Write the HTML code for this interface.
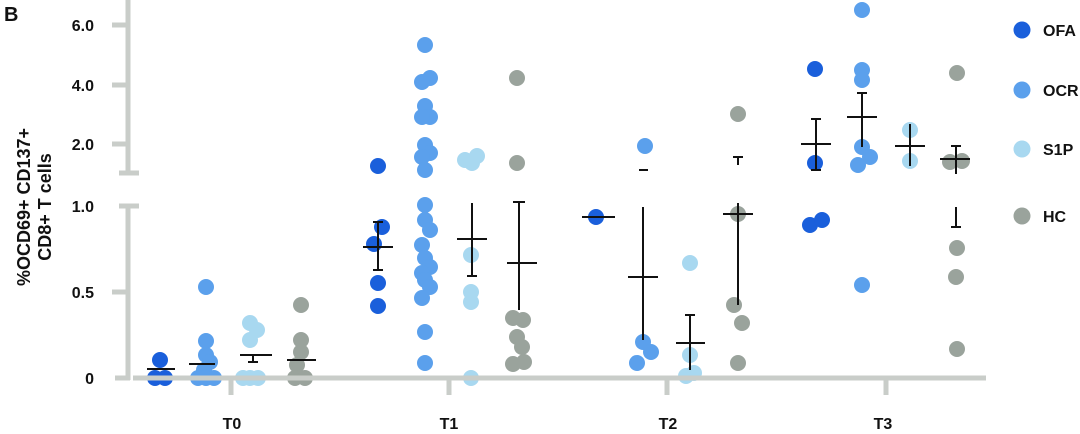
<!DOCTYPE html>
<html><head><meta charset="utf-8"><style>
html,body{margin:0;padding:0;background:#fff;width:1080px;height:434px;overflow:hidden}
text{font-family:"Liberation Sans",sans-serif;font-weight:bold;fill:#111}
</style></head><body>
<svg width="1080" height="434" viewBox="0 0 1080 434" xmlns="http://www.w3.org/2000/svg">
<text x="4" y="21" font-size="20">B</text>
<g transform="translate(30,207) rotate(-90)"><text x="0" y="0" font-size="18" text-anchor="middle">%OCD69+ CD137+</text><text x="0" y="21" font-size="18" text-anchor="middle">CD8+ T cells</text></g>
<g font-size="16" text-anchor="end">
<text x="94" y="31">6.0</text><text x="94" y="91">4.0</text><text x="94" y="150">2.0</text>
<text x="94" y="212">1.0</text><text x="94" y="298">0.5</text><text x="94" y="384">0</text></g>
<g fill="#1a5fdb">
<circle cx="160" cy="360" r="8"/><circle cx="155" cy="378" r="8"/><circle cx="165" cy="378" r="8"/>
<circle cx="378" cy="166" r="8"/><circle cx="382" cy="227" r="8"/><circle cx="374" cy="244" r="8"/><circle cx="378" cy="283" r="8"/><circle cx="378" cy="306" r="8"/>
<circle cx="596" cy="217" r="8"/>
<circle cx="815" cy="69" r="8"/><circle cx="815" cy="163" r="8"/><circle cx="810" cy="225" r="8"/><circle cx="822" cy="220" r="8"/>
<circle cx="1022" cy="30" r="8.5"/></g>
<g fill="#5ba0ec">
<circle cx="206" cy="287" r="8"/><circle cx="206" cy="341" r="8"/><circle cx="206" cy="355" r="8"/><circle cx="210" cy="362" r="8"/><circle cx="204" cy="370" r="8"/><circle cx="198" cy="378" r="8"/><circle cx="206" cy="378" r="8"/><circle cx="214" cy="378" r="8"/>
<circle cx="425" cy="45" r="8"/><circle cx="430" cy="78" r="8"/><circle cx="422" cy="82" r="8"/><circle cx="425" cy="106" r="8"/><circle cx="430" cy="117" r="8"/><circle cx="422" cy="117" r="8"/><circle cx="425" cy="145" r="8"/><circle cx="430" cy="153" r="8"/><circle cx="422" cy="157" r="8"/><circle cx="425" cy="170" r="8"/>
<circle cx="425" cy="205" r="8"/><circle cx="425" cy="220" r="8"/><circle cx="430" cy="230" r="8"/><circle cx="422" cy="245" r="8"/><circle cx="425" cy="258" r="8"/><circle cx="430" cy="267" r="8"/><circle cx="422" cy="273" r="8"/><circle cx="425" cy="280" r="8"/><circle cx="430" cy="287" r="8"/><circle cx="422" cy="298" r="8"/><circle cx="425" cy="332" r="8"/><circle cx="425" cy="363" r="8"/>
<circle cx="645" cy="146" r="8"/><circle cx="643" cy="342" r="8"/><circle cx="651" cy="352" r="8"/><circle cx="637" cy="363" r="8"/>
<circle cx="862" cy="10" r="8"/><circle cx="862" cy="70" r="8"/><circle cx="862" cy="80" r="8"/><circle cx="862" cy="147" r="8"/><circle cx="870" cy="157" r="8"/><circle cx="858" cy="165" r="8"/><circle cx="862" cy="285" r="8"/>
<circle cx="1022" cy="90" r="8.5"/></g>
<g fill="#a8d8f0">
<circle cx="250" cy="323" r="8"/><circle cx="257" cy="330" r="8"/><circle cx="250" cy="340" r="8"/><circle cx="243" cy="378" r="8"/><circle cx="250" cy="378" r="8"/><circle cx="258" cy="378" r="8"/>
<circle cx="477" cy="156" r="8"/><circle cx="465" cy="160" r="8"/><circle cx="472" cy="163" r="8"/><circle cx="471" cy="255" r="8"/><circle cx="471" cy="292" r="8"/><circle cx="471" cy="302" r="8"/><circle cx="471" cy="378" r="8"/>
<circle cx="690" cy="263" r="8"/><circle cx="690" cy="355" r="8"/><circle cx="686" cy="376" r="8"/><circle cx="694" cy="373" r="8"/>
<circle cx="910" cy="130" r="8"/><circle cx="910" cy="161" r="8"/>
<circle cx="1022" cy="149" r="8.5"/></g>
<g fill="#9aa39c">
<circle cx="301" cy="305" r="8"/><circle cx="301" cy="340" r="8"/><circle cx="301" cy="352" r="8"/><circle cx="297" cy="365" r="8"/><circle cx="295" cy="378" r="8"/><circle cx="305" cy="378" r="8"/>
<circle cx="517" cy="78" r="8"/><circle cx="517" cy="163" r="8"/><circle cx="513" cy="318" r="8"/><circle cx="523" cy="320" r="8"/><circle cx="517" cy="337" r="8"/><circle cx="522" cy="347" r="8"/><circle cx="513" cy="364" r="8"/><circle cx="524" cy="362" r="8"/>
<circle cx="738" cy="114" r="8"/><circle cx="738" cy="214" r="8"/><circle cx="734" cy="305" r="8"/><circle cx="742" cy="323" r="8"/><circle cx="738" cy="363" r="8"/>
<circle cx="957" cy="73" r="8"/><circle cx="950" cy="162" r="8"/><circle cx="962" cy="161" r="8"/><circle cx="957" cy="248" r="8"/><circle cx="956" cy="277" r="8"/><circle cx="957" cy="349" r="8"/>
<circle cx="1022" cy="216" r="8.5"/></g>
<g stroke="#c9cdc9" stroke-width="5" fill="none">
<line x1="128" y1="0" x2="128" y2="173"/><line x1="119" y1="173" x2="139" y2="173"/>
<line x1="128" y1="206" x2="128" y2="380"/><line x1="119" y1="206" x2="139" y2="206"/>
<line x1="112" y1="25" x2="128" y2="25"/><line x1="112" y1="85" x2="128" y2="85"/><line x1="112" y1="144" x2="128" y2="144"/><line x1="112" y1="292" x2="128" y2="292"/>
<line x1="115" y1="378" x2="130" y2="378"/><line x1="133" y1="378" x2="986" y2="378"/>
<line x1="231" y1="378" x2="231" y2="395"/><line x1="449" y1="378" x2="449" y2="395"/><line x1="667" y1="378" x2="667" y2="395"/><line x1="886" y1="378" x2="886" y2="395"/>
</g>
<g stroke="#111" stroke-width="2" fill="none">
<line x1="147" y1="369" x2="175" y2="369"/><line x1="189" y1="364" x2="215" y2="364"/>
<line x1="240" y1="355" x2="272" y2="355"/><line x1="253" y1="355" x2="253" y2="362"/><line x1="248" y1="362" x2="258" y2="362"/>
<line x1="287" y1="360" x2="316" y2="360"/>
<line x1="363" y1="247" x2="393" y2="247"/><line x1="378" y1="222" x2="378" y2="270"/><line x1="373" y1="222" x2="383" y2="222"/><line x1="373" y1="270" x2="383" y2="270"/>
<line x1="457" y1="239" x2="487" y2="239"/><line x1="472" y1="203" x2="472" y2="276"/><line x1="467" y1="276" x2="477" y2="276"/>
<line x1="507" y1="263" x2="537" y2="263"/><line x1="519" y1="202" x2="519" y2="310"/><line x1="513" y1="202" x2="525" y2="202"/>
<line x1="582" y1="217" x2="615" y2="217"/>
<line x1="628" y1="277" x2="658" y2="277"/><line x1="643" y1="207" x2="643" y2="340"/><line x1="639" y1="170" x2="648" y2="170"/>
<line x1="676" y1="343" x2="705" y2="343"/><line x1="690" y1="315" x2="690" y2="370"/><line x1="685" y1="315" x2="695" y2="315"/>
<line x1="723" y1="214" x2="753" y2="214"/><line x1="738" y1="203" x2="738" y2="305"/><line x1="738" y1="157" x2="738" y2="165"/><line x1="733" y1="157" x2="743" y2="157"/>
<line x1="801" y1="144" x2="831" y2="144"/><line x1="816" y1="119" x2="816" y2="170"/><line x1="811" y1="119" x2="821" y2="119"/><line x1="811" y1="170" x2="821" y2="170"/>
<line x1="847" y1="117" x2="877" y2="117"/><line x1="862" y1="93" x2="862" y2="147"/><line x1="857" y1="93" x2="867" y2="93"/>
<line x1="895" y1="146" x2="925" y2="146"/><line x1="910" y1="124" x2="910" y2="166"/>
<line x1="940" y1="159" x2="970" y2="159"/><line x1="956" y1="146" x2="956" y2="174"/><line x1="951" y1="146" x2="961" y2="146"/><line x1="956" y1="207" x2="956" y2="227"/><line x1="951" y1="227" x2="961" y2="227"/>
</g>
<g font-size="16" text-anchor="middle">
<text x="232" y="429">T0</text><text x="449" y="429">T1</text><text x="668" y="429">T2</text><text x="883" y="429">T3</text></g>
<g font-size="16"><text x="1043" y="36">OFA</text><text x="1043" y="96">OCR</text><text x="1043" y="155">S1P</text><text x="1043" y="222">HC</text></g>
</svg>
</body></html>
